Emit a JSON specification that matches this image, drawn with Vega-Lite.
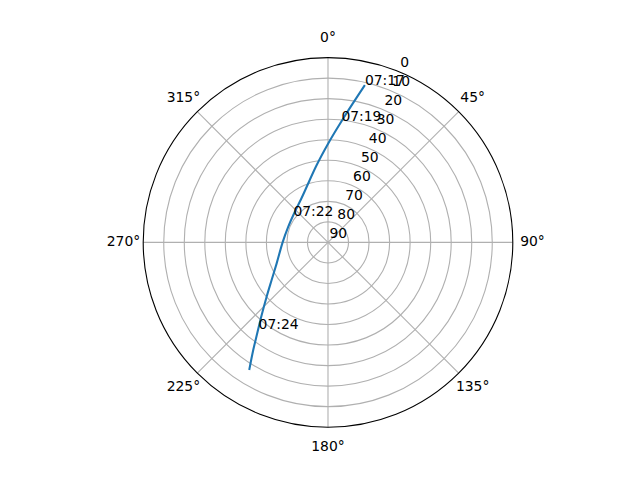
{
  "$schema": "https://vega.github.io/schema/vega-lite/v6.json",
  "autosize": {"type": "none"},
  "padding": {"left": 143.2, "top": 57.6, "right": 127.2, "bottom": 52.8},
  "width": 369.6,
  "height": 369.6,
  "background": "white",
  "config": {"view": {"stroke": null}, "text": {"font": "DejaVu Sans", "fontSize": 13.9, "color": "black"}},
  "layer": [
    {
      "data": {"values": [{"r": 10}, {"r": 20}, {"r": 30}, {"r": 40}, {"r": 50}, {"r": 60}, {"r": 70}, {"r": 80}]},
      "mark": {"type": "arc", "filled": false, "fill": "transparent", "stroke": "#b0b0b0", "strokeWidth": 1.1},
      "encoding": {
        "theta": {"value": 0},
        "theta2": {"value": 6.2832},
        "radius": {"field": "r", "type": "quantitative", "stack": null, "scale": {"type": "linear", "domain": [0, 90], "range": [0, 184.8], "zero": true, "nice": false}, "legend": null}
      }
    },
    {
      "data": {"values": [{"angle": 0}, {"angle": 45}, {"angle": 90}, {"angle": 135}, {"angle": 180}, {"angle": 225}, {"angle": 270}, {"angle": 315}]},
      "transform": [
        {"calculate": "90*sin(datum.angle*PI/180)", "as": "ex"},
        {"calculate": "90*cos(datum.angle*PI/180)", "as": "ey"}
      ],
      "mark": {"type": "rule", "stroke": "#b0b0b0", "strokeWidth": 1.1},
      "encoding": {
        "x": {"field": "ex", "type": "quantitative", "scale": {"domain": [-90, 90], "nice": false, "zero": false}, "axis": null},
        "y": {"field": "ey", "type": "quantitative", "scale": {"domain": [-90, 90], "nice": false, "zero": false}, "axis": null},
        "x2": {"datum": 0},
        "y2": {"datum": 0}
      }
    },
    {
      "data": {"values": [{"r": 90}]},
      "mark": {"type": "arc", "filled": false, "fill": "transparent", "stroke": "black", "strokeWidth": 1.1},
      "encoding": {
        "theta": {"value": 0},
        "theta2": {"value": 6.2832},
        "radius": {"field": "r", "type": "quantitative", "stack": null, "scale": {"type": "linear", "domain": [0, 90], "range": [0, 184.8], "zero": true, "nice": false}, "legend": null}
      }
    },
    {
      "data": {"values": [
        {"i": 1, "az": 13.2, "el": 11.3},
        {"i": 2, "az": 7.4, "el": 28.3},
        {"i": 3, "az": 0.2, "el": 41.7},
        {"i": 4, "az": 351.7, "el": 51.9},
        {"i": 5, "az": 328.0, "el": 65.2},
        {"i": 6, "az": 312.9, "el": 68.0},
        {"i": 7, "az": 291.6, "el": 69.2},
        {"i": 8, "az": 270.0, "el": 67.9},
        {"i": 9, "az": 247.8, "el": 63.0},
        {"i": 10, "az": 236.3, "el": 57.0},
        {"i": 11, "az": 228.5, "el": 50.1},
        {"i": 12, "az": 222.4, "el": 42.1},
        {"i": 13, "az": 217.9, "el": 33.9},
        {"i": 14, "az": 214.8, "el": 26.2},
        {"i": 15, "az": 211.7, "el": 17.0}
      ]},
      "transform": [
        {"calculate": "(90-datum.el)*sin(datum.az*PI/180)", "as": "px"},
        {"calculate": "(90-datum.el)*cos(datum.az*PI/180)", "as": "py"}
      ],
      "mark": {"type": "line", "color": "#1f77b4", "strokeWidth": 2.08, "interpolate": "monotone"},
      "encoding": {
        "x": {"field": "px", "type": "quantitative", "scale": {"domain": [-90, 90], "nice": false, "zero": false}, "axis": null},
        "y": {"field": "py", "type": "quantitative", "scale": {"domain": [-90, 90], "nice": false, "zero": false}, "axis": null},
        "order": {"field": "i", "type": "quantitative"}
      }
    },
    {
      "data": {"values": [
        {"time": "07:17", "az": 13.2, "el": 11.3},
        {"time": "07:19", "az": 6.3, "el": 30.5},
        {"time": "07:22", "az": 307.4, "el": 68.8},
        {"time": "07:24", "az": 218.7, "el": 35.9}
      ]},
      "transform": [
        {"calculate": "(90-datum.el)*sin(datum.az*PI/180)", "as": "px"},
        {"calculate": "(90-datum.el)*cos(datum.az*PI/180)", "as": "py"}
      ],
      "mark": {"type": "text", "align": "left", "baseline": "alphabetic"},
      "encoding": {
        "x": {"field": "px", "type": "quantitative", "scale": {"domain": [-90, 90], "nice": false, "zero": false}, "axis": null},
        "y": {"field": "py", "type": "quantitative", "scale": {"domain": [-90, 90], "nice": false, "zero": false}, "axis": null},
        "text": {"field": "time"}
      }
    },
    {
      "data": {"values": [
        {"el": 0, "label": "0"}, {"el": 10, "label": "10"}, {"el": 20, "label": "20"}, {"el": 30, "label": "30"}, {"el": 40, "label": "40"},
        {"el": 50, "label": "50"}, {"el": 60, "label": "60"}, {"el": 70, "label": "70"}, {"el": 80, "label": "80"}, {"el": 90, "label": "90"}
      ]},
      "transform": [
        {"calculate": "(90-datum.el)*sin(22.5*PI/180)", "as": "px"},
        {"calculate": "(90-datum.el)*cos(22.5*PI/180)", "as": "py"}
      ],
      "mark": {"type": "text", "align": "left", "baseline": "middle", "dx": 1.5, "dy": -8.2},
      "encoding": {
        "x": {"field": "px", "type": "quantitative", "scale": {"domain": [-90, 90], "nice": false, "zero": false}, "axis": null},
        "y": {"field": "py", "type": "quantitative", "scale": {"domain": [-90, 90], "nice": false, "zero": false}, "axis": null},
        "text": {"field": "label"}
      }
    },
    {
      "data": {"values": [
        {"angle": 0, "label": "0°"}, {"angle": 45, "label": "45°"}, {"angle": 90, "label": "90°"}, {"angle": 135, "label": "135°"},
        {"angle": 180, "label": "180°"}, {"angle": 225, "label": "225°"}, {"angle": 270, "label": "270°"}, {"angle": 315, "label": "315°"}
      ]},
      "transform": [
        {"calculate": "99.6*sin(datum.angle*PI/180)", "as": "px"},
        {"calculate": "99.6*cos(datum.angle*PI/180)", "as": "py"}
      ],
      "mark": {"type": "text", "align": "center", "baseline": "middle"},
      "encoding": {
        "x": {"field": "px", "type": "quantitative", "scale": {"domain": [-90, 90], "nice": false, "zero": false}, "axis": null},
        "y": {"field": "py", "type": "quantitative", "scale": {"domain": [-90, 90], "nice": false, "zero": false}, "axis": null},
        "text": {"field": "label"}
      }
    }
  ]
}
